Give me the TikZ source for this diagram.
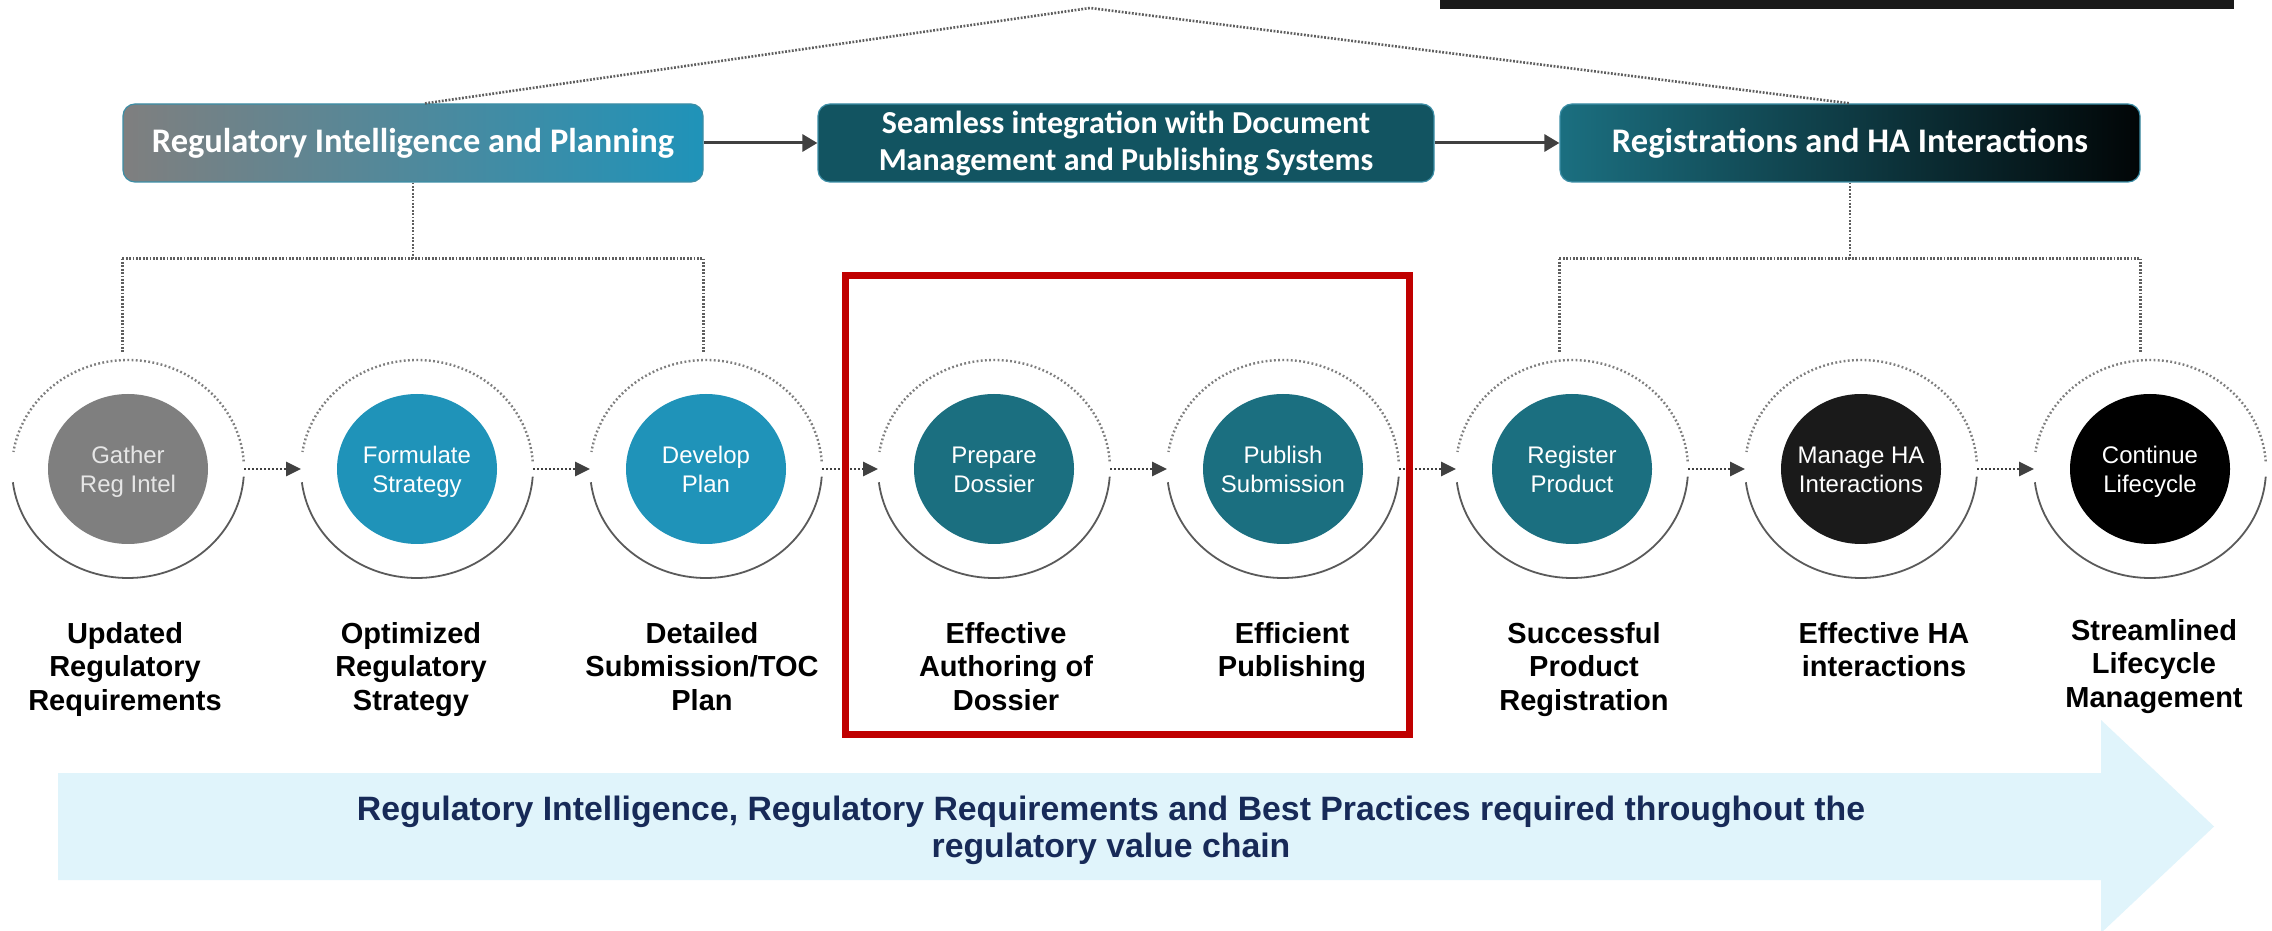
\documentclass[tikz,border=0pt]{standalone}
\usepackage{fontspec}
\setmainfont{Liberation Sans}
\newfontfamily\calib{Carlito}
\usetikzlibrary{shapes.geometric,arrows.meta,calc}
\definecolor{cgray}{HTML}{7F7F7F}
\definecolor{cblue}{HTML}{1F93B9}
\definecolor{cteal}{HTML}{1B6F80}
\definecolor{cdark}{HTML}{1A1A1A}
\definecolor{cblack}{HTML}{000000}
\definecolor{boxteal}{HTML}{125461}
\definecolor{boxedge}{HTML}{3C8EA6}
\definecolor{arrowgray}{HTML}{404040}
\definecolor{dotgray}{HTML}{5E5E5E}
\definecolor{ringdotc}{HTML}{7E7E7E}
\definecolor{ringsolc}{HTML}{5A5A5A}
\definecolor{arrowbg}{HTML}{E0F4FB}
\definecolor{navy}{HTML}{172A58}
\definecolor{framered}{HTML}{C00000}
\definecolor{barblack}{HTML}{1A1A1A}
\definecolor{lightt}{HTML}{E6E6E6}
\begin{document}
\begin{tikzpicture}[x=1pt,y=1pt,
  topbox/.style={rounded corners=12pt, minimum width=580pt, minimum height=78pt, inner sep=0pt,
    text=white, font=\calib\bfseries\fontsize{34.5}{37}\selectfont, align=center, draw=boxedge, line width=1.2pt},
  ring/.style={ellipse, minimum width=232pt, minimum height=218pt, inner sep=0pt, outer sep=0pt},
  core/.style={ellipse, minimum width=160pt, minimum height=150pt, inner sep=0pt},
  ctext/.style={font=\fontsize{24}{29}\selectfont, align=center, inner sep=0pt},
  outc/.style={font=\bfseries\fontsize{29}{33.5}\selectfont, align=center, anchor=north, inner sep=0pt},
  bottomtext/.style={font=\bfseries\fontsize{33.8}{37}\selectfont, text=navy, align=center, anchor=north, inner sep=0pt},
  flow/.style={draw=arrowgray, line width=2.6pt, dash pattern=on 2pt off 2pt, -{Triangle[length=15pt,width=14pt]}},
  barrow/.style={draw=arrowgray, line width=3pt, -{Triangle[length=15pt,width=17pt]}},
  dotline/.style={draw=dotgray, line width=2.6pt, dash pattern=on 1.8pt off 1.6pt},
  ringdot/.style={draw=ringdotc, line width=2.4pt, dash pattern=on 1.8pt off 2.4pt},
  ringsolid/.style={draw=ringsolc, line width=1.8pt},
  redframe/.style={draw=framered, line width=7pt}
]
\useasboundingbox (0,0) rectangle (2272,930);
\fill[white] (0,0) rectangle (2272,930);
% black bar at top
\fill[barblack] (1440,921) rectangle (2234,930);
% bottom arrow band
\fill[arrowbg] (58,50) -- (2101,50) -- (2101,-3) -- (2214,103.5) -- (2101,210) -- (2101,157) -- (58,157) -- cycle;
\node[bottomtext] (bt) at (1111,135.9) {\strut Regulatory Intelligence, Regulatory Requirements and Best Practices required throughout the\\regulatory value chain};
% top boxes
\node[topbox, left color=cgray, right color=cblue] (b1) at (413,787) {Regulatory Intelligence and Planning};
\node[topbox, fill=boxteal, minimum width=616pt, font=\calib\bfseries\fontsize{32}{37}\selectfont] (b2) at (1126,787) {Seamless integration with Document\\Management and Publishing Systems};
\node[topbox, left color=cteal, middle color=cteal!75!black, right color=black!95!cteal] (b3) at (1850,787) {Registrations and HA Interactions};
\draw[barrow] (b1.east) -- (b2.west);
\draw[barrow] (b2.east) -- (b3.west);
\coordinate (apex) at (1090,922);
\draw[dotline] ([xshift=12pt]b1.north) -- (apex) -- (b3.north);
% rings
\foreach \i/\x/\col/\tc/\txt in {1/128/cgray/lightt/{Gather\\Reg Intel},
  2/417/cblue/white/{Formulate\\Strategy},
  3/706/cblue/white/{Develop\\Plan},
  4/994/cteal/white/{Prepare\\Dossier},
  5/1283/cteal/white/{Publish\\Submission},
  6/1572/cteal/white/{Register\\Product},
  7/1861/cdark/white/{Manage HA\\Interactions},
  8/2150/cblack/white/{Continue\\Lifecycle}} {
  \node[ring] (r\i) at (\x,461) {};
  \node[core, fill=\col] (c\i) at (r\i.center) {};
  \node[ctext, text=\tc] (t\i) at ([yshift=-3pt]c\i.center) {\strut\txt\strut};
  \draw[ringdot] ($(r\i.center)+(4:116 and 109)$) arc[start angle=4, end angle=171, x radius=116, y radius=109];
  \draw[ringsolid] ($(r\i.center)+(187:116 and 109)$) arc[start angle=187, end angle=356, x radius=116, y radius=109];
}
\foreach \a/\b in {1/2,2/3,3/4,4/5,5/6,6/7,7/8} {
  \draw[flow] (r\a.east) -- (r\b.west);
}
% dotted connectors from top boxes
\coordinate (h1) at ($(b1.south)+(0,-76)$);
\draw[dotline] (b1.south) -- (h1);
\draw[dotline] (b1.west |- h1) -- (b1.east |- h1);
\draw[dotline, shorten >=8pt] (b1.west |- h1) -- (b1.west |- r1.north);
\draw[dotline, shorten >=8pt] (b1.east |- h1) -- (b1.east |- r3.north);
\coordinate (h3) at ($(b3.south)+(0,-76)$);
\draw[dotline] (b3.south) -- (h3);
\draw[dotline] (b3.west |- h3) -- (b3.east |- h3);
\draw[dotline, shorten >=8pt] (b3.west |- h3) -- (b3.west |- r6.north);
\draw[dotline, shorten >=8pt] (b3.east |- h3) -- (b3.east |- r8.north);
% outcome labels
\node[outc] (o1) at (125,310.5) {\strut Updated\\Regulatory\\Requirements};
\node[outc] (o2) at (411,310.5) {\strut Optimized\\Regulatory\\Strategy};
\node[outc] (o3) at (702,310.5) {\strut Detailed\\Submission/TOC\\Plan};
\node[outc] (o4) at (1006,310.5) {\strut Effective\\Authoring of\\Dossier};
\node[outc] (o5) at (1292,310.5) {\strut Efficient\\Publishing};
\node[outc] (o6) at (1584,310.5) {\strut Successful\\Product\\Registration};
\node[outc] (o7) at (1884,310.5) {\strut Effective HA\\interactions};
\node[outc] (o8) at (2154,313.5) {\strut Streamlined\\Lifecycle\\Management};
% red highlight frame
\draw[redframe] (845,654.5) rectangle (1409,195.5);
\end{tikzpicture}
\end{document}
